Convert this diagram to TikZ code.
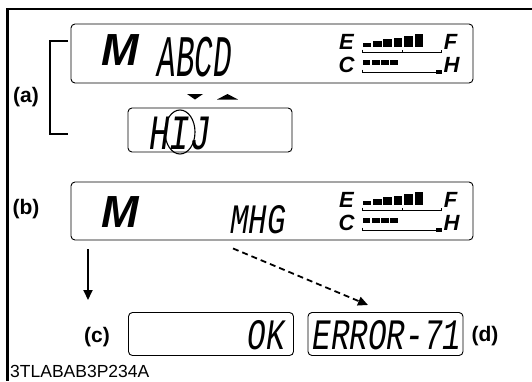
\documentclass[tikz,border=0pt]{standalone}
\usepackage{fontspec}
\usepackage{graphicx}
\setmainfont{Liberation Sans}
\newfontfamily\lcdfont{Liberation Mono}
\usetikzlibrary{arrows.meta,positioning}

% stretched segment-like text for the display windows
\newcommand{\lcdtext}[3]{\scalebox{1}[#1]{\fontsize{#2}{#2}\lcdfont\itshape #3}}

\begin{document}
\begin{tikzpicture}[
  x=1pt,y=-1pt,
  frame/.style={line width=2.5pt},
  lcdbox/.style={draw, rounded corners=4pt, line width=0.9pt, inner sep=0pt},
  lcd/.style={inner sep=0pt},
  bigm/.style={font=\fontsize{45}{45}\selectfont\bfseries\itshape, inner sep=0pt},
  tag/.style={font=\fontsize{21}{21}\selectfont\bfseries, inner sep=0pt},
  gaugelbl/.style={font=\fontsize{22}{22}\selectfont\bfseries\itshape, inner sep=0pt},
  code/.style={font=\fontsize{17.5}{17.5}\selectfont, inner sep=0pt, anchor=west},
  arr/.style={-{Triangle[length=10pt,width=9pt]}, line width=1.8pt},
  dasharr/.style={arr, dash pattern=on 6pt off 4pt}
]
\useasboundingbox (0,0) rectangle (532,381);
\draw[frame] (532,9) -- (7.5,9) -- (7.5,381);

% display windows
\node[lcdbox, minimum width=402pt, minimum height=59pt] (top) at (272,53.5) {};
\node[lcdbox, minimum width=164pt, minimum height=44pt] (hij) at (210,130) {};
\node[lcdbox, minimum width=402pt, minimum height=58pt] (meas) at (272,211) {};
\node[lcdbox, minimum width=165pt, minimum height=43pt] (ok) at (211,334) {};
\node[lcdbox, minimum width=155pt, minimum height=43pt] (err) at (385.5,334) {};

% contents
\node[bigm] (topm) at (120.5,50) {M};
\node[lcd] (toptxt) at (195,57.5) {\lcdtext{1.9}{31}{ABCD}};
\node[lcd] (hijtxt) at (180,133) {\lcdtext{1.45}{34}{HIJ}};
\node[bigm] (measm) at (120.5,212) {M};
\node[lcd] (meastxt) at (258,219.5) {\lcdtext{1.35}{31}{MHG}};
\node[lcd] (oktxt) at (266,335) {\lcdtext{1.4}{31}{OK}};
\node[lcd] (errtxt) at (387,335) {\lcdtext{1.4}{31}{ERROR-71}};

% fuel and temperature gauges
\foreach \bx in {top,meas}{
  \begin{scope}[shift={(\bx.north west)}]
    \node[gaugelbl] (\bx-e) at (276,18) {E};
    \node[gaugelbl] (\bx-c) at (276,41) {C};
    \node[gaugelbl] (\bx-f) at (380,18) {F};
    \node[gaugelbl] (\bx-h) at (381,41) {H};
    \foreach \i in {0,...,5}
      \fill (292+\i*10.4,23) rectangle ++(8.6,-3.5-\i*1.8);
    \draw[line width=1pt] (292,26) -- (292,29) -- (371,29) -- (371,26);
    \draw[line width=1pt] (332,29) -- (332,26);
    \foreach \i in {0,...,3}
      \fill (292+\i*9.3,36) rectangle ++(7.8,5);
    \draw[line width=1pt] (292,46) -- (292,49) -- (371,49);
    \fill (365,46) rectangle (371,50);
  \end{scope}
}

% selection of item
\fill (187,94) -- (203,94) -- (195,99.5) -- cycle;
\fill (217,99.5) -- (238,99.5) -- (227.5,94) -- cycle;
\draw[line width=1.1pt] (180,132) ellipse [x radius=15, y radius=22];
\draw[line width=1.2pt] (68,41) -- (50,41) -- (50,134) -- (68,134);

% labels
\node[tag] (la) at (26,97) {(a)};
\node[tag] (lb) at (26,209) {(b)};
\node[tag] (lc) at (97,337) {(c)};
\node[tag] (ld) at (485,336) {(d)};
\node[code] (fig) at (10,371) {3TLABAB3P234A};

% results
\coordinate (okto) at (88,300);
\coordinate (errto) at (368,305);
\draw[arr] (meas.south -| okto) ++(0,9) -- (okto);
\draw[dasharr] (meas.south -| 233,0) ++(0,8) -- (errto);
\end{tikzpicture}
\end{document}
